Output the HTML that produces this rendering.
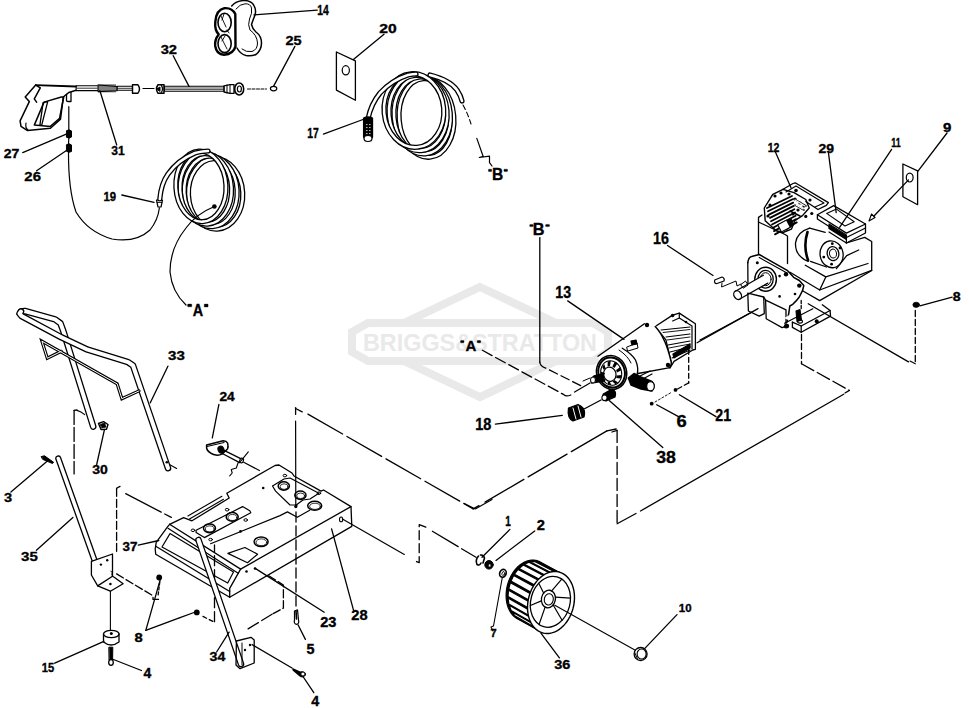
<!DOCTYPE html>
<html><head><meta charset="utf-8"><title>Parts diagram</title>
<style>
html,body{margin:0;padding:0;background:#fff;}
body{width:969px;height:708px;overflow:hidden;font-family:"Liberation Sans",sans-serif;}
svg{display:block;}
</style></head>
<body>
<svg width="969" height="708" viewBox="0 0 969 708">
<rect width="969" height="708" fill="#fff"/>
<g stroke="#e9e9e9" fill="none" stroke-width="8" stroke-linejoin="miter">
<polygon points="480,287 596,342 480,397 364,342"/>
</g>
<polygon points="352,332 368,323 593,323 608,332 608,352 593,361 368,361 352,352" fill="#fff" stroke="#e9e9e9" stroke-width="8"/>
<text x="363" y="351" font-size="23" font-family="Liberation Sans, sans-serif" font-weight="bold" fill="#e9e9e9" stroke="none" textLength="234" lengthAdjust="spacingAndGlyphs">BRIGGS&amp;STRATTON</text>
<g stroke="#000" fill="none" stroke-linecap="round" stroke-linejoin="round">
<polyline points="35.7,85.1 25.2,97 29.3,101.6 20.1,120.9 21,126.4 27.5,130.6 50.4,128.3 60.5,119.1 63.3,97 66.5,94.3 68.8,92.5 76.1,90.2" stroke-width="1.5" fill="none"/>
<polyline points="35.7,85.1 76.1,86.5" stroke-width="1.8" fill="none"/>
<polyline points="35.7,85.1 40.3,87.9 34.3,98.9 36.6,102.1" stroke-width="1.5" fill="none"/>
<polygon points="44,102.1 61.4,97 63.7,97 59.6,118.2 50.4,126.4 34.3,125.1" stroke-width="1.5" fill="none"/>
<polygon points="43.1,102.6 47.7,101.6 41.7,125.1 39.9,125.1" stroke-width="1.3" fill="none"/>
<path d="M26,123 Q25,128 28,130" stroke-width="1.2" fill="none"/>
<path d="M66.5,94.3 L66.5,100.5 Q66.5,101.5 68,101.5 L71,101.5 L71,92.5" stroke-width="1.3" fill="none"/>
<polygon points="76.1,85.8 98,85.8 98,90.6 76.1,90.6" stroke-width="1.1" fill="none"/>
<line x1="77" y1="88.2" x2="97" y2="88.2" stroke-width="0.8"/>
<line x1="99.0" y1="84.6" x2="99.0" y2="92" stroke-width="1.0"/>
<line x1="101.0" y1="84.6" x2="101.0" y2="92" stroke-width="1.0"/>
<line x1="103.0" y1="84.6" x2="103.0" y2="92" stroke-width="1.0"/>
<line x1="105.0" y1="84.6" x2="105.0" y2="92" stroke-width="1.0"/>
<line x1="107.0" y1="84.6" x2="107.0" y2="92" stroke-width="1.0"/>
<line x1="109.0" y1="84.6" x2="109.0" y2="92" stroke-width="1.0"/>
<line x1="111.0" y1="84.6" x2="111.0" y2="92" stroke-width="1.0"/>
<line x1="113.0" y1="84.6" x2="113.0" y2="92" stroke-width="1.0"/>
<line x1="115.0" y1="84.6" x2="115.0" y2="92" stroke-width="1.0"/>
<polyline points="98,85 117,86.5 117,90.8 98,91.6" stroke-width="1.1" fill="none"/>
<polygon points="117,86.3 132.5,86.3 132.5,90.3 117,90.3" stroke-width="1.1" fill="none"/>
<line x1="118" y1="88.3" x2="132" y2="88.3" stroke-width="0.8"/>
<path d="M132.5,84.8 L138,84.8 Q141,89 138,93.2 L132.5,93.2 Z" stroke-width="1.4" fill="none"/>
<line x1="143" y1="88.5" x2="154" y2="88.5" stroke-width="1.1"/>
<path d="M158,84.8 Q155,89 158,93.2 L164,93.2 L164,84.8 Z" stroke-width="1.5" fill="#fff"/>
<path d="M156.8,88.9 L160,87 L160,91 Z" stroke-width="1" fill="#000"/>
<path d="M161,84.8 Q164,89 161,93.2" stroke-width="1.2" fill="none"/>
<polygon points="164.4,86.3 224,86.3 224,91.3 164.4,91.3" stroke-width="1.1" fill="none"/>
<line x1="165" y1="88" x2="223" y2="88" stroke-width="0.7"/>
<line x1="165" y1="89.6" x2="223" y2="89.6" stroke-width="0.7"/>
<path d="M224,85.8 L230,84.6 L234,84.6 L234,93.4 L230,93.4 L224,92 Z" stroke-width="1.3" fill="none"/>
<line x1="227" y1="85" x2="227" y2="93" stroke-width="1"/>
<line x1="230" y1="84.8" x2="230" y2="93.2" stroke-width="1"/>
<ellipse cx="239.2" cy="89" rx="4.5" ry="6" stroke-width="1.6" fill="none"/>
<ellipse cx="239.4" cy="89" rx="2" ry="3" stroke-width="1.2" fill="none"/>
<line x1="247.5" y1="89" x2="266.5" y2="89" stroke-width="1.0" stroke-dasharray="3,1.5"/>
<ellipse cx="273.6" cy="88.6" rx="3.2" ry="2.2" stroke-width="1.2" fill="none"/>
<line x1="173.2" y1="55.7" x2="189" y2="86.4" stroke-width="1.3"/>
<line x1="294.9" y1="46.4" x2="273.5" y2="86.4" stroke-width="1.3"/>
<line x1="99.9" y1="90.7" x2="116.7" y2="145" stroke-width="1.3"/>
<path d="M68.8,106.7 L68.8,130 M68.8,138 L68.5,144 M68.5,152 Q68.3,190 76,212 Q88,232 112,239 Q136,243 150,230 Q158,220 159.4,207.8" stroke-width="1.2" fill="none"/>
<path d="M66.8,130.5 Q69.8,129 71.5,131 L71.5,137 Q69.5,139 66.8,137.5 Z" stroke-width="1" fill="#000"/>
<path d="M66.8,144.5 Q69.8,143 71.5,145 L71.5,151.5 Q69.5,153 66.8,151.5 Z" stroke-width="1" fill="#000"/>
<line x1="22.7" y1="152.6" x2="66.3" y2="134.2" stroke-width="1.3"/>
<line x1="36.6" y1="170.8" x2="67.2" y2="150" stroke-width="1.3"/>
<path d="M156.5,200 L162.5,200 L161,207 L158,207 Z" stroke-width="1.2" fill="none"/>
<line x1="157" y1="202.5" x2="162" y2="202.5" stroke-width="0.8"/>
<line x1="121.8" y1="195" x2="154" y2="202.4" stroke-width="1.3"/>
<ellipse cx="215.6" cy="193.9" rx="27.15" ry="35.30" transform="rotate(-3 215.6 193.9)" stroke="#000" stroke-width="5.2" fill="none"/>
<ellipse cx="215.6" cy="193.9" rx="27.15" ry="35.30" transform="rotate(-3 215.6 193.9)" stroke="#fff" stroke-width="2.6" fill="none"/>
<ellipse cx="210.7" cy="191.4" rx="26.45" ry="35.30" transform="rotate(-3 210.7 191.4)" stroke="#000" stroke-width="5.2" fill="none"/>
<ellipse cx="210.7" cy="191.4" rx="26.45" ry="35.30" transform="rotate(-3 210.7 191.4)" stroke="#fff" stroke-width="2.6" fill="none"/>
<ellipse cx="205.8" cy="188.9" rx="25.75" ry="35.30" transform="rotate(-3 205.8 188.9)" stroke="#000" stroke-width="5.2" fill="none"/>
<ellipse cx="205.8" cy="188.9" rx="25.75" ry="35.30" transform="rotate(-3 205.8 188.9)" stroke="#fff" stroke-width="2.6" fill="none"/>
<ellipse cx="200.9" cy="186.4" rx="25.05" ry="35.30" transform="rotate(-3 200.9 186.4)" stroke="#000" stroke-width="5.2" fill="none"/>
<ellipse cx="200.9" cy="186.4" rx="25.05" ry="35.30" transform="rotate(-3 200.9 186.4)" stroke="#fff" stroke-width="2.6" fill="none"/>
<path d="M159.8,199 Q161,184 168,174 Q178,160 195,153 Q203,151 208,151" stroke="#000" stroke-width="5.2" fill="none"/>
<path d="M159.8,199 Q161,184 168,174 Q178,160 195,153 Q203,151 208,151" stroke="#fff" stroke-width="2.6" fill="none"/>
<circle cx="214.4" cy="206.5" r="2.3" fill="#000" stroke="none"/>
<path d="M214.4,206.5 Q196,214 186,228 Q170,248 170,272 Q172,292 186,305" stroke-width="1.2" fill="none"/>
<path d="M231.7,6 Q236,1 243,0.6 Q251,0 254,5.6 Q256.5,10 255,15 Q253,20 251.5,24.5 Q252.5,29 256,32 Q261.5,36 261.5,43 Q261.5,50 256,54.5 Q251,56.5 246,55.5 Q240,54 237,48" stroke-width="1.5" fill="#fff"/>
<path d="M236,9 Q240,4 245,3.8 Q250.5,3.5 251.5,8 Q252.5,13 249.5,19 Q247.5,25 250,30 Q257,35 257.5,43 Q257.5,49.5 252,51.5 Q246,52.5 242,49" stroke-width="1.0" fill="none"/>
<path d="M224.3,8.2 Q232,7.5 235.3,14 L235.5,46.4 Q233.5,54 224,54.8 Q216.5,54.5 215.2,46 Q214.5,39.5 218.7,34.4 Q214.5,30 215.3,22 Q216,10 224.3,8.2 Z" stroke-width="2.4" fill="#fff"/>
<ellipse cx="224.6" cy="22.5" rx="6.6" ry="9.2" stroke-width="1.6" fill="none"/>
<ellipse cx="224.6" cy="43.6" rx="6.6" ry="9" stroke-width="1.6" fill="none"/>
<path d="M221,16 L226,27 M224,14 L222,20 M221,37 L227,49 M225,36 L222,41 M227,30 L229,33" stroke-width="0.9" fill="none"/>
<line x1="254" y1="14.9" x2="317.2" y2="10.2" stroke-width="1.3"/>
<polygon points="336.4,52 355.4,60.9 355.4,100.3 336.4,90.1" stroke-width="1.3" fill="none"/>
<ellipse cx="345.8" cy="70.3" rx="3.6" ry="4.6" stroke-width="1.2" fill="none"/>
<line x1="384" y1="34.2" x2="353.4" y2="59.6" stroke-width="1.3"/>
<ellipse cx="426.5" cy="118.0" rx="27.36" ry="39.39" transform="rotate(-5 426.5 118.0)" stroke="#000" stroke-width="5.2" fill="none"/>
<ellipse cx="426.5" cy="118.0" rx="27.36" ry="39.39" transform="rotate(-5 426.5 118.0)" stroke="#fff" stroke-width="2.6" fill="none"/>
<ellipse cx="422.2" cy="115.5" rx="28.19" ry="38.56" transform="rotate(-5 422.2 115.5)" stroke="#000" stroke-width="5.2" fill="none"/>
<ellipse cx="422.2" cy="115.5" rx="28.19" ry="38.56" transform="rotate(-5 422.2 115.5)" stroke="#fff" stroke-width="2.6" fill="none"/>
<ellipse cx="418.1" cy="113.0" rx="29.02" ry="37.73" transform="rotate(-5 418.1 113.0)" stroke="#000" stroke-width="5.2" fill="none"/>
<ellipse cx="418.1" cy="113.0" rx="29.02" ry="37.73" transform="rotate(-5 418.1 113.0)" stroke="#fff" stroke-width="2.6" fill="none"/>
<ellipse cx="413.9" cy="110.5" rx="29.85" ry="36.90" transform="rotate(-5 413.9 110.5)" stroke="#000" stroke-width="5.2" fill="none"/>
<ellipse cx="413.9" cy="110.5" rx="29.85" ry="36.90" transform="rotate(-5 413.9 110.5)" stroke="#fff" stroke-width="2.6" fill="none"/>
<path d="M368,119 Q371,104 380,93 Q392,80 408,75 Q413,74 416,74" stroke="#000" stroke-width="5.2" fill="none"/>
<path d="M368,119 Q371,104 380,93 Q392,80 408,75 Q413,74 416,74" stroke="#fff" stroke-width="2.6" fill="none"/>
<path d="M363.6,121 L363.6,137 Q368,143 372.5,137 L372.5,118 Q368,116 363.6,118 Z" stroke-width="1.3" fill="#000"/>
<ellipse cx="368" cy="138.5" rx="4" ry="3" stroke-width="1.2" fill="#fff"/>
<rect x="366.3" y="124" width="1.1" height="1.1" fill="#fff" stroke="none"/>
<rect x="369.3" y="124" width="1.1" height="1.1" fill="#fff" stroke="none"/>
<rect x="366.3" y="127" width="1.1" height="1.1" fill="#fff" stroke="none"/>
<rect x="369.3" y="127" width="1.1" height="1.1" fill="#fff" stroke="none"/>
<rect x="366.3" y="130" width="1.1" height="1.1" fill="#fff" stroke="none"/>
<rect x="369.3" y="130" width="1.1" height="1.1" fill="#fff" stroke="none"/>
<rect x="366.3" y="133" width="1.1" height="1.1" fill="#fff" stroke="none"/>
<rect x="369.3" y="133" width="1.1" height="1.1" fill="#fff" stroke="none"/>
<line x1="323.4" y1="134.1" x2="363" y2="119.5" stroke-width="1.3"/>
<path d="M430,75 Q450,80 457,90 Q461,96 462,101" stroke="#000" stroke-width="5.2" fill="none"/>
<path d="M430,75 Q450,80 457,90 Q461,96 462,101" stroke="#fff" stroke-width="2.6" fill="none"/>
<path d="M463,105 Q468,114 471,124" stroke-width="1.1" fill="none" stroke-dasharray="5,3"/>
<polyline points="476.8,138.4 483.1,156.2 479.3,157.5 489.5,156.2 489.5,162.6 492,166" stroke-width="1.2" fill="none"/>
<g stroke-width="1.3">
<polyline points="758.5,254.5 758.5,217.4 762,215" stroke-width="1.3" fill="none"/>
<polyline points="758.5,222 785,234.5 787.5,236 787.5,263.5" stroke-width="1.3" fill="none"/>
<polygon points="764.3,208 772.8,194.4 783,189.3 794,192.7 805.8,199.5 809.2,208 802.5,215.6 794.8,220.7 791.4,229.2 783,232.5 776.2,230.8 765.2,220.7" fill="#fff" stroke="#000" stroke-width="1.4"/>
<line x1="767.0" y1="208.0" x2="792.0" y2="196.0" stroke="#000" stroke-width="1.8"/>
<line x1="768.0" y1="211.3" x2="792.6" y2="199.3" stroke="#000" stroke-width="1.8"/>
<line x1="769.0" y1="214.6" x2="793.2" y2="202.6" stroke="#000" stroke-width="1.8"/>
<line x1="770.0" y1="217.9" x2="793.8" y2="205.9" stroke="#000" stroke-width="1.8"/>
<line x1="771.0" y1="221.2" x2="794.4" y2="209.2" stroke="#000" stroke-width="1.8"/>
<line x1="772.0" y1="224.5" x2="795.0" y2="212.5" stroke="#000" stroke-width="1.8"/>
<line x1="773.0" y1="227.8" x2="795.6" y2="215.8" stroke="#000" stroke-width="1.8"/>
<line x1="774.0" y1="231.1" x2="796.2" y2="219.1" stroke="#000" stroke-width="1.8"/>
<line x1="775.0" y1="234.4" x2="796.8" y2="222.4" stroke="#000" stroke-width="1.8"/>
<polygon points="783,224 791,219 793,225 786,230" fill="#000"/>
<circle cx="775" cy="196" r="1.6" fill="#000" stroke="none"/>
<circle cx="781" cy="193" r="1.6" fill="#000" stroke="none"/>
<circle cx="789" cy="194" r="1.6" fill="#000" stroke="none"/>
<circle cx="795" cy="199" r="1.6" fill="#000" stroke="none"/>
<circle cx="800" cy="203" r="1.6" fill="#000" stroke="none"/>
<circle cx="770" cy="205" r="1.6" fill="#000" stroke="none"/>
<circle cx="768" cy="216" r="1.6" fill="#000" stroke="none"/>
<circle cx="804" cy="206" r="1.6" fill="#000" stroke="none"/>
<circle cx="798" cy="210" r="1.6" fill="#000" stroke="none"/>
<circle cx="793" cy="214" r="1.6" fill="#000" stroke="none"/>
<path d="M794,199 L806,206 M795,205 L804,210 M790,211 L800,216" stroke="#000" stroke-width="1.6"/>
<line x1="795" y1="200" x2="805" y2="206" stroke="#fff" stroke-width="1.3"/>
<line x1="796" y1="205" x2="803" y2="209" stroke="#fff" stroke-width="1.3"/>
<rect x="779" y="222" width="10" height="8" fill="#fff" stroke="#000" stroke-width="1.1" transform="rotate(-28 784 226)"/>
<polyline points="783,189.3 793,183.5 795.2,182.8 828.4,202.6 826.3,205.4 818,209.5 805.8,201.5" stroke-width="1.3" fill="none"/>
<path d="M786,192 L796,186 L824,203 L815,207" stroke-width="1.1" fill="none"/>
<circle cx="805.8" cy="216.4" r="1.6" fill="#000" stroke="none"/>
<circle cx="811.8" cy="213.5" r="1.6" fill="#000" stroke="none"/>
<circle cx="796" cy="190.5" r="1.8" fill="#000" stroke="none"/>
<circle cx="810" cy="200" r="1.6" fill="#000" stroke="none"/>
<polygon points="817.4,214.8 833.7,205.6 865.5,224 846.4,233.1 817.4,214.8" stroke-width="1.3" fill="none"/>
<polygon points="826.6,213.4 836.5,209.1 854.2,221.8 845,226" stroke-width="1.1" fill="none"/>
<polyline points="817.4,214.8 817.4,219 846.4,237.5 865.5,228 865.5,224" stroke-width="1.3" fill="none"/>
<polyline points="829,224 846.4,235 846.4,243 829,232" stroke-width="1.2" fill="none"/>
<polygon points="829,225 846.4,236 846.4,239.5 829,228.5" fill="#000"/>
<polyline points="846.4,243 865.5,233 865.5,228" stroke-width="1.3" fill="none"/>
<polyline points="846.4,243 864.7,237.4 871.7,241.5 871.7,270.4" stroke-width="1.3" fill="none"/>
<polyline points="805.3,265.3 825.8,276.9 868,263.5" stroke-width="1.3" fill="none"/>
<line x1="825.8" y1="276.9" x2="819.7" y2="290" stroke-width="1.3"/>
<polyline points="790,272.3 819.7,290 871.7,270.4" stroke-width="1.3" fill="none"/>
<polyline points="803,291 819.7,300.6 871,271" stroke-width="1.3" fill="none"/>
<polyline points="836.4,268.6 846.7,255.6 858.7,250" stroke-width="1.3" fill="none"/>
<path d="M809.7,228.2 Q797,232 795.5,243 Q795,256 808.2,261.4" stroke-width="1.3" fill="none"/>
<line x1="809.7" y1="228.2" x2="825.2" y2="232.4" stroke-width="1.3"/>
<line x1="810.4" y1="261.4" x2="826.6" y2="267" stroke-width="1.3"/>
<path d="M807.5,232 Q803,246 808,260" stroke-width="2.6" fill="none"/>
<ellipse cx="831.6" cy="254.3" rx="11.5" ry="13.5" stroke-width="1.3" fill="none" transform="rotate(-10 831.6 254.3)"/>
<ellipse cx="833" cy="253.6" rx="5.8" ry="7.0" stroke-width="1.3" fill="none" transform="rotate(-10 833 253.6)"/>
<ellipse cx="833" cy="253.6" rx="3.5" ry="4.5" stroke-width="1.0" fill="none" transform="rotate(-10 833 253.6)"/>
<circle cx="832.3" cy="243.7" r="1.4" fill="#000" stroke="none"/>
<circle cx="840" cy="248" r="1.4" fill="#000" stroke="none"/>
<circle cx="823.8" cy="257.1" r="1.4" fill="#000" stroke="none"/>
<circle cx="831.6" cy="264.2" r="1.4" fill="#000" stroke="none"/>
</g>
<path d="M747.8,262.7 Q748.5,257 751.6,256.4 L759.2,254.5 L787.2,270.3 L793.6,277.3 L799.3,280.5 L803.8,285.6 L802.5,290.7 L799.3,297 L796.1,300.9 L792.3,304.7 L789.8,306 L789,312 L787,322" stroke-width="1.5" fill="none"/>
<line x1="747.8" y1="262.7" x2="748" y2="292" stroke-width="1.3"/>
<line x1="759.2" y1="257.5" x2="787" y2="273" stroke-width="1.1"/>
<ellipse cx="765.6" cy="279.2" rx="10.8" ry="12" stroke-width="1.4" fill="none"/>
<ellipse cx="765.6" cy="279.2" rx="7.6" ry="8.9" stroke-width="1.3" fill="none"/>
<ellipse cx="765.6" cy="279.2" rx="5.5" ry="6.5" stroke-width="1" fill="none"/>
<path d="M763.4,275.3 L735.4,291.2 L739.8,299 L767.8,283.1 Z" stroke="none" fill="#fff"/>
<line x1="763.4" y1="275.3" x2="735.4" y2="291.2" stroke-width="1.3"/>
<line x1="767.8" y1="283.1" x2="739.8" y2="299" stroke-width="1.3"/>
<ellipse cx="737.6" cy="295.1" rx="3.6" ry="4.6" stroke-width="1.3" fill="#fff" transform="rotate(-30 737.6 295.1)"/>
<polygon points="741,284.5 745.5,281 748,285 743.5,288" stroke-width="1" fill="none"/>
<polyline points="747.8,293.2 763.7,297 764.3,313.6 759.2,316.1 748.4,311 747.8,293.2" stroke-width="1.3" fill="none"/>
<polyline points="765.6,300.2 786,309.8 786,326.3 782.1,327.6 766.2,318.7 765.6,300.2" stroke-width="1.3" fill="none"/>
<line x1="763.7" y1="297" x2="765.6" y2="300.2" stroke-width="1.3"/>
<circle cx="757.3" cy="262.7" r="1.5" fill="#000" stroke="none"/>
<circle cx="786" cy="274.2" r="2.2" fill="#000" stroke="none"/>
<circle cx="779.6" cy="276.1" r="1.3" fill="#000" stroke="none"/>
<circle cx="799.3" cy="285.6" r="2.2" fill="#000" stroke="none"/>
<circle cx="779.6" cy="296.4" r="1.3" fill="#000" stroke="none"/>
<circle cx="798.7" cy="312.3" r="2.2" fill="#000" stroke="none"/>
<circle cx="801.2" cy="321.8" r="1.4" fill="#000" stroke="none"/>
<circle cx="816.5" cy="322.5" r="1.6" fill="#000" stroke="none"/>
<circle cx="786" cy="326.3" r="2.2" fill="#000" stroke="none"/>
<circle cx="795" cy="294" r="1.3" fill="#000" stroke="none"/>
<polygon points="784,318 810,304 822.3,304.8 830.1,310.5 830.5,316.1 801.2,332.3 792.4,327.4 792.4,322.1" fill="#fff" stroke="none"/>
<polyline points="792.4,322.1 801.2,326 830.1,310.5 822.3,304.8" stroke-width="1.3" fill="none"/>
<polyline points="792.4,322.1 792.4,327.4 801.2,332.3 830.5,316.1 830.1,310.5" stroke-width="1.3" fill="none"/>
<line x1="801.2" y1="326" x2="801.2" y2="332.3" stroke-width="1.3"/>
<line x1="784.6" y1="323.2" x2="812.8" y2="308.7" stroke-width="1.2"/>
<path d="M796,311 L800,309.5 L801.5,320 L797,321.5 Z" stroke-width="1.1" fill="#000"/>
<ellipse cx="800" cy="321.5" rx="2.5" ry="1.6" stroke-width="1.1" fill="none"/>
<circle cx="816.7" cy="321.3" r="2" fill="#000" stroke="none"/>
<circle cx="787" cy="326" r="2.2" fill="#000" stroke="none"/>
<path d="M714.7,280 L722,277 Q725,278 724,281 L717,283.5 Q714,284 714.7,280 Z" stroke-width="1.2" fill="none"/>
<polyline points="722,283 721.6,287 736,281 737,286 741,284" stroke-width="1" fill="none"/>
<line x1="667.5" y1="245.5" x2="713" y2="275.5" stroke-width="1.3"/>
<polygon points="902.9,164 917.6,170.8 917.6,204.7 902.9,196.8" stroke-width="1.3" fill="none"/>
<ellipse cx="909.7" cy="177.6" rx="3.4" ry="4.4" stroke-width="1.2" fill="none"/>
<line x1="947" y1="133" x2="917.6" y2="171.6" stroke-width="1.3"/>
<line x1="908.5" y1="179.9" x2="874" y2="216" stroke-width="1.3"/>
<path d="M869,221 L871.5,214 L875,217.5 Z" stroke-width="1.1" fill="none"/>
<line x1="775.2" y1="151.6" x2="791" y2="187.8" stroke-width="1.3"/>
<line x1="828.3" y1="151.6" x2="836.2" y2="212.7" stroke-width="1.3"/>
<line x1="891.6" y1="149.4" x2="839.6" y2="227.3" stroke-width="1.3"/>
<ellipse cx="916.2" cy="304.8" rx="3.3" ry="2.6" stroke-width="0.8" fill="#000"/>
<line x1="919.9" y1="305.9" x2="952.2" y2="297.1" stroke-width="1.3"/>
<g stroke-width="1.3">
<polygon points="655.2,326.5 672.6,315.1 679.3,313.1 695.4,323.8 695.4,349.3 692.8,350 674,361.4 669.9,368.1 671.3,362.7 665.9,339.9" fill="#fff"/>
<polyline points="679.3,313.1 679.3,318 692,326 692,349" stroke-width="1.2" fill="none"/>
<line x1="679.3" y1="318" x2="672.6" y2="321" stroke-width="1.1"/>
<line x1="661" y1="330" x2="690" y2="327" stroke-width="1.1"/>
<line x1="666" y1="337" x2="690" y2="334" stroke-width="1.1"/>
<line x1="668" y1="345" x2="690" y2="341" stroke-width="1.1"/>
<line x1="670" y1="352" x2="690" y2="347" stroke-width="1.1"/>
<line x1="672" y1="358" x2="690" y2="350" stroke-width="1.1"/>
<line x1="663" y1="332.5" x2="690" y2="329.5" stroke-width="0.9"/>
<line x1="667" y1="340" x2="690" y2="337" stroke-width="0.9"/>
<line x1="669" y1="348" x2="690" y2="344" stroke-width="0.9"/>
<circle cx="686" cy="322" r="1.3" fill="#000" stroke="none"/>
<polygon points="673,354 690,344 690,348 674,358" fill="#000"/>
<circle cx="672.6" cy="315.5" r="1.8" fill="#000" stroke="none"/>
<path d="M598,356.2 L644.4,323.8 Q652,320 656,326 Q666,338 671.3,362.7 Q671,368 667.2,368.1 L638,373.5 L621,389 L605,389 Z" fill="#fff" stroke="none"/>
<path d="M598,356.2 L644.4,323.8" stroke-width="1.4" fill="none"/>
<path d="M655.2,326.5 Q666,338 671.3,362.7 Q671,368 667.2,368.1 L638,373.5" stroke-width="1.4" fill="none"/>
<circle cx="647" cy="325" r="2.2" fill="#000" stroke="none"/>
<circle cx="668" cy="365" r="2.2" fill="#000" stroke="none"/>
<path d="M622.3,348.2 Q632,354 635.5,360 Q639,368 637,375 Q636,380 634.7,382" stroke-width="1.3" fill="none"/>
<path d="M619,350 Q628,356 631,363" stroke-width="1.0" fill="none"/>
<ellipse cx="611.6" cy="372.5" rx="15" ry="17" stroke-width="1.5" fill="#fff" transform="rotate(-15 611.6 372.5)"/>
<ellipse cx="611.6" cy="372.5" rx="13.2" ry="15.2" stroke-width="2.0" fill="none" transform="rotate(-15 611.6 372.5)"/>
<ellipse cx="611.2" cy="373" rx="10.4" ry="12.4" stroke-width="1.0" fill="none" transform="rotate(-15 611.2 373)"/>
<polygon points="616.9,375.4 621.6,375.1 620.6,378.6 616.1,378.0" fill="#000" stroke="none"/>
<polygon points="614.5,380.1 618.0,382.4 615.4,384.3 612.4,381.5" fill="#000" stroke="none"/>
<polygon points="610.0,382.0 611.3,385.3 608.2,384.8 607.6,381.5" fill="#000" stroke="none"/>
<polygon points="605.5,380.1 604.6,382.4 602.5,379.7 603.9,378.0" fill="#000" stroke="none"/>
<polygon points="603.1,375.4 601.0,375.1 600.9,371.5 603.1,372.6" fill="#000" stroke="none"/>
<polygon points="603.9,370.0 602.2,366.9 604.2,364.0 605.5,367.9" fill="#000" stroke="none"/>
<polygon points="607.6,366.5 607.7,361.4 610.8,360.7 610.0,366.0" fill="#000" stroke="none"/>
<polygon points="612.4,366.5 614.9,361.4 617.6,363.2 614.5,367.9" fill="#000" stroke="none"/>
<polygon points="616.1,370.0 620.4,366.9 621.5,370.3 616.9,372.6" fill="#000" stroke="none"/>
<ellipse cx="609.8" cy="374.2" rx="6.2" ry="7.2" stroke-width="1.2" fill="#fff" transform="rotate(-15 609.8 374.2)"/>
</g>
<path d="M631,341 L636,340 L637,344 L632,345 Z" stroke-width="1.2" fill="#000"/>
<polygon points="627,347 637,343 638,348 628,351" stroke-width="1" fill="none"/>
<path d="M604.2,373.5 L594,376 Q590,379 591.5,383 L604,381" stroke-width="1.4" fill="#000"/>
<ellipse cx="593" cy="380" rx="2.5" ry="3" stroke-width="1" fill="#fff"/>
<line x1="583" y1="381" x2="590" y2="378" stroke-width="1"/>
<path d="M603.3,394 L612,389 Q617,391 615,397 L606,401 Q601,399 603.3,394 Z" stroke-width="1.3" fill="#000"/>
<ellipse cx="604.5" cy="397.8" rx="2.6" ry="2.8" stroke-width="1.1" fill="#fff"/>
<path d="M628.3,378 L634,373.5 L641,377 L652,381.5 Q656,386 652,391 L641,389 L631,385 Z" stroke-width="1.4" fill="#000"/>
<ellipse cx="650.5" cy="386.2" rx="3.8" ry="4.6" stroke-width="1.2" fill="#fff"/>
<line x1="640" y1="376" x2="650" y2="371" stroke-width="1.2"/>
<line x1="641" y1="380" x2="652" y2="374" stroke-width="1.2"/>
<line x1="567.7" y1="300.9" x2="624" y2="339.4" stroke-width="1.3"/>
<path d="M568.5,408 L578,404.5 Q585,407 584.5,414 L584,417 L573,421 Q567,418 568.5,408 Z" stroke-width="1.3" fill="#000"/>
<line x1="573" y1="408" x2="576" y2="419" stroke="#fff" stroke-width="1"/>
<line x1="578" y1="406" x2="581" y2="417" stroke="#fff" stroke-width="1"/>
<line x1="584.5" y1="408.7" x2="601" y2="400" stroke-width="1.3"/>
<line x1="495.4" y1="424.2" x2="562.3" y2="415.3" stroke-width="1.3"/>
<line x1="609.2" y1="400.5" x2="662.8" y2="447.6" stroke-width="1.3"/>
<circle cx="651.7" cy="403.7" r="1.9" fill="#000" stroke="none"/>
<circle cx="675.5" cy="389.9" r="1.9" fill="#000" stroke="none"/>
<line x1="655" y1="402" x2="672" y2="392" stroke-width="0.9" stroke-dasharray="2,2"/>
<line x1="656.7" y1="404.7" x2="678.5" y2="416.6" stroke-width="1.3"/>
<line x1="679.4" y1="394.8" x2="716" y2="416.6" stroke-width="1.3"/>
<line x1="688.7" y1="349.3" x2="688.7" y2="382.9" stroke-width="1.3" stroke-dasharray="5,3"/>
<line x1="688.7" y1="382.9" x2="677.5" y2="389" stroke-width="1.3" stroke-dasharray="5,3"/>
<line x1="697.1" y1="342.8" x2="758" y2="308.6" stroke-width="1.3"/>
<line x1="700" y1="340" x2="751.6" y2="312.3" stroke-width="1.3"/>
<line x1="808.2" y1="303.8" x2="908.5" y2="361.9" stroke-width="1.3"/>
<line x1="539.8" y1="237.6" x2="539.8" y2="362.2" stroke-width="1.3"/>
<path d="M539.8,362 Q540,366 545.7,368.1 L581.3,385.9" stroke-width="1.3" fill="none" stroke-dasharray="9,4"/>
<path d="M482.4,350.3 L563.8,394.6 Q566,397 570.8,395" stroke-width="1.3" fill="none" stroke-dasharray="11,4"/>
<line x1="574.6" y1="392.1" x2="590" y2="383" stroke-width="1.2"/>
<line x1="915.3" y1="310.5" x2="915.3" y2="363.8" stroke-width="1.3" stroke-dasharray="6,3"/>
<line x1="915.3" y1="363.8" x2="910" y2="361" stroke-width="1.1"/>
<line x1="801.5" y1="334.5" x2="801.5" y2="363.8" stroke-width="1.3" stroke-dasharray="6,3"/>
<line x1="801.2" y1="300.5" x2="801.2" y2="309" stroke-width="1.3" stroke-dasharray="3,2"/>
<path d="M801.5,363.8 L849.4,390.4 L845,393" stroke-width="1.3" fill="none" stroke-dasharray="14,4"/>
<line x1="843.7" y1="394.2" x2="640.5" y2="511" stroke-width="1.3"/>
<line x1="636" y1="513.5" x2="617.1" y2="523.7" stroke-width="1.3"/>
<line x1="617.1" y1="430.4" x2="617.1" y2="523.7" stroke-width="1.3" stroke-dasharray="12,4"/>
<line x1="617.1" y1="430.4" x2="612" y2="432" stroke-width="1.3"/>
<line x1="307.9" y1="414.1" x2="473.2" y2="508.9" stroke-width="1.3" stroke-dasharray="40,5"/>
<line x1="473.2" y1="508.9" x2="479" y2="505.6" stroke-width="1.3"/>
<line x1="485" y1="502.1" x2="606.9" y2="430.9" stroke-width="1.3" stroke-dasharray="45,5"/>
<line x1="606.9" y1="430.9" x2="616.2" y2="429" stroke-width="1.3"/>
<line x1="295.6" y1="407.6" x2="295.6" y2="414.4" stroke-width="1.3"/>
<line x1="295.6" y1="408.5" x2="302.2" y2="411.9" stroke-width="1.3"/>
</g>
<g stroke="#000" fill="none" stroke-linecap="round" stroke-linejoin="round">
<path d="M93.2,426.6 L63.6,331.9 L60.5,323.3 L55.1,319.4 L24.8,311 L21,311.5" stroke="#000" stroke-width="6.6" fill="none"/>
<path d="M93.2,426.6 L63.6,331.9 L60.5,323.3 L55.1,319.4 L24.8,311 L21,311.5" stroke="#fff" stroke-width="4.0" fill="none"/>
<path d="M21,311.5 L19.5,313.5 L21.5,316 L61.3,337.3 L87.7,349.7 L128.1,362.2 L133,365.5 L168,468.2" stroke="#000" stroke-width="6.6" fill="none"/>
<path d="M21,311.5 L19.5,313.5 L21.5,316 L61.3,337.3 L87.7,349.7 L128.1,362.2 L133,365.5 L168,468.2" stroke="#fff" stroke-width="4.0" fill="none"/>
<path d="M61.3,351.3 L47.3,358.3 L41.9,341.2 L117.2,383.9 L121.9,398.7 L139,390.9" stroke="#000" stroke-width="3.2" fill="none" stroke-linejoin="miter"/>
<path d="M61.3,351.3 L47.3,358.3 L41.9,341.2 L117.2,383.9 L121.9,398.7 L139,390.9" stroke="#fff" stroke-width="1.0" fill="none" stroke-linejoin="miter"/>
<line x1="167.9" y1="366.2" x2="150.3" y2="402.8" stroke-width="1.3"/>
<line x1="169.9" y1="464.8" x2="176.6" y2="468.4" stroke-width="1.1"/>
<circle cx="166.8" cy="462.3" r="1.3" fill="#000" stroke="none"/>
<path d="M98.5,423.5 L103.5,421.6 L108,424.5 L106.5,429.2 L101,429.6 Z" stroke-width="1.4" fill="#fff"/>
<path d="M100.5,424.5 L104.5,423 L106,427 L102,428 Z" stroke-width="0.8" fill="#000"/>
<line x1="104.5" y1="429.4" x2="96.7" y2="464.5" stroke-width="1.3"/>
<line x1="74.1" y1="410.4" x2="74.1" y2="473.9" stroke-width="1.3" stroke-dasharray="14,3"/>
<line x1="74.1" y1="410.4" x2="77" y2="410" stroke-width="1.3"/>
<path d="M77,410.4 Q81,411.5 84.7,414.6" stroke-width="1.1" fill="none"/>
<path d="M58.3,458.5 L95.5,563" stroke="#000" stroke-width="6.2" fill="none"/>
<path d="M58.3,458.5 L95.5,563" stroke="#fff" stroke-width="3.6" fill="none"/>
<path d="M41.5,456.5 L44.5,455.8 L53.6,462.3 L52.5,463.5 L43,459.5 Z" stroke-width="1" fill="#000"/>
<line x1="47.4" y1="461" x2="10.9" y2="492" stroke-width="1.3"/>
<line x1="36.4" y1="550.2" x2="72.9" y2="517.4" stroke-width="1.3"/>
<polygon points="91.4,561.3 112.5,554 112.5,576.3 114.6,577.5 123.1,583.8 110.4,591.2 97.7,585.9" fill="#fff" stroke="none"/>
<polyline points="97.7,585.9 91.4,575 91.4,561.3 112.5,554 112.5,576.3" stroke-width="1.3" fill="none"/>
<polyline points="97.7,585.9 110.4,591.2 123.1,583.8 114.6,577.5 112.5,576.3 97.7,585.9" stroke-width="1.3" fill="none"/>
<circle cx="100.9" cy="564.6" r="1.2" fill="#000" stroke="none"/>
<circle cx="107.2" cy="560.3" r="1.2" fill="#000" stroke="none"/>
<circle cx="110.4" cy="584" r="1.3" fill="#000" stroke="none"/>
<path d="M111,571 Q113,572 112,575" stroke-width="1" fill="none"/>
<line x1="110.4" y1="591.2" x2="110.4" y2="630.4" stroke-width="1.1"/>
<path d="M103.5,634 L103.5,642 Q111,648 119,642 L119,634" stroke-width="1.3" fill="none"/>
<ellipse cx="111.3" cy="634" rx="7.8" ry="3.6" stroke-width="1.3" fill="none"/>
<circle cx="111.3" cy="633.6" r="1.5" fill="#000" stroke="none"/>
<path d="M109.2,647.2 L112.8,647.2 L112.6,660 L109.4,660 Z" stroke-width="1" fill="#000"/>
<ellipse cx="111" cy="662.5" rx="2.3" ry="2.8" stroke-width="1.3" fill="#fff"/>
<line x1="54.7" y1="663.2" x2="103.9" y2="641.3" stroke-width="1.3"/>
<line x1="141.4" y1="670.5" x2="113.5" y2="659.5" stroke-width="1.3"/>
<circle cx="159.2" cy="577.5" r="2.9" fill="#000" stroke="none"/>
<line x1="145.8" y1="630.4" x2="160.3" y2="579.4" stroke-width="1.3"/>
<line x1="145.8" y1="630.4" x2="180" y2="617.6" stroke-width="1.3"/>
<circle cx="196.8" cy="612.4" r="2.9" fill="#000" stroke="none"/>
<line x1="180" y1="617.6" x2="194" y2="612.5" stroke-width="1.3"/>
<line x1="159.8" y1="582" x2="158" y2="596" stroke-width="1.3" stroke-dasharray="3,2"/>
<line x1="116.6" y1="488.3" x2="116.6" y2="552" stroke-width="1.3" stroke-dasharray="8,3"/>
<line x1="116.6" y1="488.3" x2="120" y2="486.4" stroke-width="1.3"/>
<line x1="125.7" y1="493.7" x2="171.3" y2="517.4" stroke-width="1.3" stroke-dasharray="40,4"/>
<path d="M116.6,573.9 L153,595.8 L153,599.4 L158.5,599.4" stroke-width="1.3" fill="none" stroke-dasharray="8,3"/>
<path d="M206.6,444.9 L223.1,440.7 Q226.5,441 227.6,443 Q228.6,447 227.5,449 L222.3,453.9 Q219.5,455.3 217.3,455.2 Q213,455 210.7,453.1 Q207,451 206.6,448.2 Z" stroke-width="1.5" fill="#fff"/>
<line x1="207" y1="446.5" x2="224" y2="442.5" stroke-width="1.1"/>
<path d="M223.1,449.8 L241.2,458.9 M222.3,453.5 L239.6,462.6" stroke-width="1.3" fill="none"/>
<ellipse cx="221" cy="449.6" rx="3" ry="3.6" stroke-width="1" fill="#000" transform="rotate(-20 221 449.6)"/>
<ellipse cx="241.6" cy="460.5" rx="1.8" ry="2.4" stroke-width="1.2" fill="#fff" transform="rotate(20 241.6 460.5)"/>
<polyline points="248.3,451.9 241.2,460.6 238,463 236.3,468 231.3,469.6 232.2,473 229.7,475.8" stroke-width="1.1" fill="none"/>
<line x1="243.7" y1="462.2" x2="259.4" y2="470.5" stroke-width="1.2"/>
<line x1="218.9" y1="404.4" x2="212.3" y2="437.8" stroke-width="1.3"/>
<g stroke-width="1.3">
<polyline points="169.6,524.3 183.6,517.6 192,520.8 229.2,498 226.8,493.2 275,465.5 279,465 292,473 294,476 321,491.1 323.5,490 351,506.6 240.6,569.1" stroke-width="1.3" fill="none"/>
<polyline points="351,506.6 351.8,526.4 229.7,597.3" stroke-width="1.3" fill="none"/>
<polyline points="169.6,524.3 167.5,526.9 156.2,542.3 155.2,549 155.7,554.2 229.7,597.3 229.7,588.4 240.6,569.1 169.6,524.3" stroke-width="1.3" fill="none"/>
<line x1="168" y1="528.2" x2="238.2" y2="573.3" stroke-width="1.2"/>
<polyline points="170,533.6 233.5,572 227.7,583 162,547 170,533.6" stroke-width="1.2" fill="none"/>
<line x1="156.2" y1="546.5" x2="229.7" y2="591.5" stroke-width="1.3"/>
<path d="M187.9,515.9 L221.9,496.3 M189.5,519 L223.5,499.3" stroke-width="1.1" fill="none"/>
<polyline points="196.1,530.3 242.6,506.6 249.8,510.7 250.8,512.8 204.4,537.6 196.1,532.4 196.1,530.3" stroke-width="1.2" fill="none"/>
<polyline points="272.5,486 284,479 290,478 318.9,493.2 310,499 303,500 296.2,505 290,505 275.6,491.1 272.5,486" stroke-width="1.2" fill="none"/>
<polyline points="210.6,543.7 280,515.6 287.4,511.9 297.3,517.3 309.7,510.3" stroke-width="1.2" fill="none"/>
<ellipse cx="283.8" cy="486" rx="5.6" ry="4.2" stroke-width="1.5" fill="none"/>
<ellipse cx="284.1" cy="486.6" rx="3.9999999999999996" ry="2.8000000000000003" stroke-width="0.8" fill="none"/>
<ellipse cx="300.4" cy="495.2" rx="5.6" ry="4.2" stroke-width="1.5" fill="none"/>
<ellipse cx="300.7" cy="495.8" rx="3.9999999999999996" ry="2.8000000000000003" stroke-width="0.8" fill="none"/>
<ellipse cx="314.7" cy="505.7" rx="7" ry="4.5" stroke-width="1.5" fill="none"/>
<ellipse cx="315.0" cy="506.3" rx="5.4" ry="3.1" stroke-width="0.8" fill="none"/>
<ellipse cx="232.2" cy="516.9" rx="6" ry="4.4" stroke-width="1.5" fill="none"/>
<ellipse cx="232.5" cy="517.5" rx="4.4" ry="3.0000000000000004" stroke-width="0.8" fill="none"/>
<ellipse cx="209.5" cy="528.3" rx="6" ry="4.4" stroke-width="1.5" fill="none"/>
<ellipse cx="209.8" cy="528.9" rx="4.4" ry="3.0000000000000004" stroke-width="0.8" fill="none"/>
<ellipse cx="261.1" cy="541.7" rx="7" ry="4.8" stroke-width="1.5" fill="none"/>
<ellipse cx="261.40000000000003" cy="542.3000000000001" rx="5.4" ry="3.4" stroke-width="0.8" fill="none"/>
<ellipse cx="193" cy="530.3" rx="1.8" ry="1.3" stroke-width="1.0" fill="none"/>
<ellipse cx="227.1" cy="509.7" rx="1.8" ry="1.3" stroke-width="1.0" fill="none"/>
<ellipse cx="245.7" cy="520" rx="1.8" ry="1.3" stroke-width="1.0" fill="none"/>
<ellipse cx="210.6" cy="539.6" rx="1.8" ry="1.3" stroke-width="1.0" fill="none"/>
<ellipse cx="284.9" cy="475.6" rx="1.8" ry="1.3" stroke-width="1.0" fill="none"/>
<ellipse cx="318.9" cy="493.2" rx="1.8" ry="1.3" stroke-width="1.0" fill="none"/>
<circle cx="263.2" cy="488" r="1.3" fill="#000" stroke="none"/>
<circle cx="240.5" cy="531.4" r="1.3" fill="#000" stroke="none"/>
<circle cx="296.2" cy="505.6" r="1.3" fill="#000" stroke="none"/>
<ellipse cx="341.1" cy="519.4" rx="1.6" ry="2.4" stroke-width="1.1" fill="none"/>
<polyline points="227.9,553.4 244.9,547.5 257.6,554.2 247.5,562.7 227.9,553.4" stroke-width="1.2" fill="none"/>
<circle cx="246.5" cy="571.5" r="1.3" fill="#000" stroke="none"/>
<circle cx="255" cy="568.5" r="1.3" fill="#000" stroke="none"/>
</g>
<line x1="138.3" y1="545.1" x2="158.8" y2="540.5" stroke-width="1.3"/>
<line x1="255.2" y1="568.4" x2="324.2" y2="612.2" stroke-width="1.3"/>
<line x1="331.6" y1="528.9" x2="353.5" y2="610.2" stroke-width="1.3"/>
<polyline points="268.8,575.7 283.4,585.1 283.4,608.1 272,614.3" stroke-width="1.3" fill="none" stroke-dasharray="8,3"/>
<line x1="272" y1="614.3" x2="247.9" y2="629" stroke-width="1.3" stroke-dasharray="12,4"/>
<line x1="295.6" y1="421.2" x2="295.8" y2="506.5" stroke-width="1.2"/>
<circle cx="295.8" cy="506.6" r="1.6" fill="#000" stroke="none"/>
<line x1="296" y1="512" x2="296" y2="608" stroke-width="1.3" stroke-dasharray="10,4"/>
<line x1="203" y1="616.4" x2="213.4" y2="621.7" stroke-width="1.3" stroke-dasharray="4,3"/>
<line x1="214.5" y1="621.7" x2="214.5" y2="545" stroke-width="1.3" stroke-dasharray="10,4"/>
<path d="M294.5,611 L297.5,609.9 L298.5,620 Q299.5,624 296.5,624.4 Q293.5,623.5 294.5,620 Z" stroke-width="1.2" fill="#fff"/>
<line x1="296" y1="611" x2="296.5" y2="619" stroke-width="1.6"/>
<line x1="298" y1="624.8" x2="305.4" y2="639.4" stroke-width="1.3"/>
<path d="M198.5,540 L241,664" stroke="#000" stroke-width="6.6" fill="none"/>
<path d="M198.5,540 L241,664" stroke="#fff" stroke-width="4" fill="none"/>
<polygon points="236.4,641 251,637.3 254.2,640 254.2,663 240,668.7 236,665" stroke-width="1.3" fill="none"/>
<line x1="242" y1="643" x2="242" y2="665" stroke-width="1"/>
<circle cx="245" cy="650" r="1.2" fill="#000" stroke="none"/>
<circle cx="250" cy="645" r="1.2" fill="#000" stroke="none"/>
<line x1="216.6" y1="652" x2="229.1" y2="632.1" stroke-width="1.3"/>
<line x1="252.1" y1="644.6" x2="292" y2="668" stroke-width="1.3"/>
<path d="M292.9,668.7 L300,672 Q305,671 305.4,675 Q303,678 300,676 L293,670 Z" stroke-width="1.2" fill="#000"/>
<ellipse cx="303" cy="674" rx="2.2" ry="2" stroke-width="1" fill="#fff"/>
<line x1="303.3" y1="677" x2="313.8" y2="692.7" stroke-width="1.3"/>
<polygon points="506.11,595.83 506.13,594.26 506.22,592.68 506.36,591.09 506.57,589.49 506.84,587.91 507.17,586.32 507.56,584.75 508.0,583.2 508.51,581.67 509.07,580.16 509.69,578.67 510.36,577.23 511.08,575.81 511.85,574.44 512.66,573.11 513.52,571.83 514.43,570.6 515.37,569.43 516.35,568.31 517.37,567.25 518.42,566.26 519.49,565.33 520.59,564.47 521.72,563.69 522.87,562.98 524.03,562.34 525.2,561.78 526.39,561.3 527.58,560.9 528.78,560.58 529.98,560.34 531.18,560.18 532.36,560.11 533.54,560.12 534.71,560.22 535.86,560.39 537.0,560.65 538.11,560.99 539.2,561.42 540.25,561.92 562.25,573.92 563.28,574.5 564.27,575.16 565.23,575.89 566.15,576.69 567.03,577.57 567.86,578.51 568.65,579.52 569.39,580.6 570.07,581.73 570.71,582.92 571.29,584.16 571.82,585.46 572.29,586.8 572.7,588.18 573.05,589.6 573.34,591.06 573.57,592.55 573.74,594.07 573.84,595.61 573.89,597.17 573.87,598.74 573.78,600.32 573.64,601.91 573.43,603.51 573.16,605.09 572.83,606.68 572.44,608.25 572.0,609.8 571.49,611.33 570.93,612.84 570.31,614.33 569.64,615.77 568.92,617.19 568.15,618.56 567.34,619.89 566.48,621.17 565.57,622.4 564.63,623.57 563.65,624.69 562.63,625.75 561.58,626.74 560.51,627.67 559.41,628.53 558.28,629.31 557.13,630.02 555.97,630.66 554.8,631.22 553.61,631.7 552.42,632.1 551.22,632.42 550.02,632.66 548.82,632.82 547.64,632.89 546.46,632.88 545.29,632.78 544.14,632.61 543.0,632.35 541.89,632.01 540.8,631.58 539.75,631.08 517.75,619.08 516.72,618.5 515.73,617.84 514.77,617.11 513.85,616.31 512.97,615.43 512.14,614.49 511.35,613.48 510.61,612.4 509.93,611.27 509.29,610.08 508.71,608.84 508.18,607.54 507.71,606.2 507.3,604.82 506.95,603.4 506.66,601.94 506.43,600.45 506.26,598.93 506.16,597.39" fill="#000" stroke="#000" stroke-width="1.2"/>
<polygon points="519.31,619.25 515.52,616.54 535.85,628.31 539.75,631.08" fill="#fff" stroke="#000" stroke-width="1.2"/>
<polygon points="514.67,615.68 511.71,611.61 531.93,623.27 534.97,627.43" fill="#fff" stroke="#000" stroke-width="1.2"/>
<polygon points="511.1,610.45 509.17,605.29 529.3,616.82 531.29,622.08" fill="#fff" stroke="#000" stroke-width="1.2"/>
<polygon points="508.83,603.9 508.07,598.02 528.16,609.39 528.95,615.4" fill="#fff" stroke="#000" stroke-width="1.2"/>
<polygon points="508.03,596.49 508.49,590.28 528.57,601.49 528.11,607.83" fill="#fff" stroke="#000" stroke-width="1.2"/>
<polygon points="508.75,588.72 510.39,582.6 530.51,593.67 528.84,599.91" fill="#fff" stroke="#000" stroke-width="1.2"/>
<polygon points="510.94,581.12 513.65,575.51 533.85,586.44 531.07,592.16" fill="#fff" stroke="#000" stroke-width="1.2"/>
<polygon points="514.45,574.21 518.05,569.49 538.35,580.31 534.66,585.11" fill="#fff" stroke="#000" stroke-width="1.2"/>
<polygon points="519.04,568.46 523.28,564.96 543.72,575.69 539.37,579.25" fill="#fff" stroke="#000" stroke-width="1.2"/>
<polygon points="524.4,564.26 529.0,562.21 549.58,572.9 544.87,574.98" fill="#fff" stroke="#000" stroke-width="1.2"/>
<polygon points="530.16,561.89 534.8,561.44 555.54,572.12 550.78,572.58" fill="#fff" stroke="#000" stroke-width="1.2"/>
<polygon points="535.94,561.53 540.3,562.7 561.2,573.42 556.71,572.22" fill="#fff" stroke="#000" stroke-width="1.2"/>
<polygon points="573.02,608.4 572.4,610.51 571.67,612.58 570.85,614.6 569.92,616.56 568.91,618.45 567.8,620.27 566.62,621.99 565.36,623.63 564.02,625.16 562.63,626.58 561.18,627.88 559.68,629.06 558.13,630.11 556.56,631.02 554.95,631.8 553.33,632.43 551.69,632.92 550.05,633.26 548.42,633.45 546.8,633.49 545.19,633.38 543.62,633.11 542.08,632.7 540.59,632.14 539.15,631.44 537.76,630.6 536.44,629.61 535.19,628.5 534.02,627.26 532.93,625.9 531.93,624.43 531.02,622.84 530.2,621.16 529.49,619.39 528.89,617.54 528.39,615.61 528.0,613.62 527.73,611.57 527.56,609.48 527.52,607.36 527.58,605.21 527.76,603.05 528.06,600.89 528.46,598.74 528.98,596.6 529.6,594.49 530.33,592.42 531.15,590.4 532.08,588.44 533.09,586.55 534.2,584.73 535.38,583.01 536.64,581.37 537.98,579.84 539.37,578.42 540.82,577.12 542.32,575.94 543.87,574.89 545.44,573.98 547.05,573.2 548.67,572.57 550.31,572.08 551.95,571.74 553.58,571.55 555.2,571.51 556.81,571.62 558.38,571.89 559.92,572.3 561.41,572.86 562.85,573.56 564.24,574.4 565.56,575.39 566.81,576.5 567.98,577.74 569.07,579.1 570.07,580.57 570.98,582.16 571.8,583.84 572.51,585.61 573.11,587.46 573.61,589.39 574.0,591.38 574.27,593.43 574.44,595.52 574.48,597.64 574.42,599.79 574.24,601.95 573.94,604.11 573.54,606.26" fill="#fff" stroke="#000" stroke-width="1.4"/>
<ellipse cx="550.4" cy="601.8" rx="19.6" ry="25.8" stroke-width="1.3" fill="none" transform="rotate(15 550.4 601.8)"/>
<ellipse cx="548.4" cy="599" rx="7" ry="8.9" stroke-width="1.3" fill="none" transform="rotate(10 548.4 599)"/>
<ellipse cx="548.8" cy="599.4" rx="4.5" ry="5.7" stroke-width="1.1" fill="none" transform="rotate(10 548.8 599.4)"/>
<line x1="551.68" y1="590.85" x2="561.75" y2="579.04" stroke-width="1.2"/>
<line x1="555.41" y1="597.14" x2="570.47" y2="598.04" stroke-width="1.2"/>
<line x1="553.16" y1="605.02" x2="562.08" y2="620.25" stroke-width="1.2"/>
<line x1="545.12" y1="607.15" x2="539.05" y2="624.56" stroke-width="1.2"/>
<line x1="541.39" y1="600.86" x2="530.33" y2="605.56" stroke-width="1.2"/>
<line x1="543.64" y1="592.98" x2="538.72" y2="583.35" stroke-width="1.2"/>
<line x1="554.8" y1="605.3" x2="635.3" y2="650.2" stroke-width="1.1"/>
<ellipse cx="640.6" cy="654" rx="6.5" ry="6.5" stroke-width="1.3" fill="none"/>
<ellipse cx="641.6" cy="654" rx="4.5" ry="5" stroke-width="1.1" fill="none"/>
<line x1="634.5" y1="652" x2="637.5" y2="659" stroke-width="1"/>
<line x1="677" y1="614.6" x2="644.6" y2="648.6" stroke-width="1.3"/>
<line x1="559.4" y1="657.9" x2="540.9" y2="633.1" stroke-width="1.3"/>
<path d="M478.5,556 Q475,560 477,564.5 Q479.5,566 481,563 M480.5,555 Q483.5,554.5 484.5,558 L483,563" stroke-width="1.6" fill="none"/>
<ellipse cx="489" cy="564.8" rx="4.2" ry="4.3" stroke-width="1" fill="#000"/>
<ellipse cx="489.8" cy="565.4" rx="1.3" ry="1.5" stroke-width="0.6" fill="#fff"/>
<ellipse cx="502.9" cy="573.3" rx="3.2" ry="4" stroke-width="1.7" fill="none" transform="rotate(20 502.9 573.3)"/>
<ellipse cx="503.3" cy="573.5" rx="1.3" ry="2" stroke-width="0.8" fill="none" transform="rotate(20 503.3 573.5)"/>
<line x1="509.9" y1="529.4" x2="482" y2="557.3" stroke-width="1.3"/>
<line x1="534.7" y1="531" x2="496" y2="560.4" stroke-width="1.3"/>
<polyline points="502.2,578 493.5,626 491,627 493,631" stroke-width="1.1" fill="none"/>
<line x1="432.4" y1="531.3" x2="476" y2="557.3" stroke-width="1.3" stroke-dasharray="30,4"/>
<polyline points="425.8,527.2 419.2,524.7 419.2,562.7 413.4,560.2" stroke-width="1.3" fill="none" stroke-dasharray="9,4"/>
<line x1="342.4" y1="519" x2="404.3" y2="554.4" stroke-width="1.2"/>
<polyline points="463.8,503.3 475.3,509 492,499.5" stroke-width="1.2" fill="none"/>
</g>
<g fill="#000" stroke="#000" stroke-width="0.35" font-family="Liberation Sans, sans-serif" font-weight="bold">
<text transform="translate(317.18,14.80) scale(0.754,1)" font-size="13.77">14</text>
<text transform="translate(285.57,45.37) scale(1.082,1)" font-size="13.38">25</text>
<text transform="translate(160.71,54.46) scale(1.085,1)" font-size="13.52">32</text>
<text transform="translate(379.23,32.78) scale(1.265,1)" font-size="12.39">20</text>
<text transform="translate(307.28,137.80) scale(0.696,1)" font-size="14.93">17</text>
<text transform="translate(111.26,154.57) scale(0.932,1)" font-size="12.96">31</text>
<text transform="translate(3.68,158.10) scale(1.034,1)" font-size="13.57">27</text>
<text transform="translate(24.35,180.56) scale(1.102,1)" font-size="13.52">26</text>
<text transform="translate(103.42,200.87) scale(0.879,1)" font-size="12.96">19</text>
<text transform="translate(767.66,152.10) scale(0.797,1)" font-size="13.29">12</text>
<text transform="translate(818.38,152.97) scale(1.064,1)" font-size="13.10">29</text>
<text transform="translate(891.16,146.90) scale(0.665,1)" font-size="13.48">11</text>
<text transform="translate(943.10,132.27) scale(1.158,1)" font-size="12.96">9</text>
<text transform="translate(653.04,244.34) scale(0.896,1)" font-size="15.92">16</text>
<text transform="translate(555.35,298.34) scale(0.874,1)" font-size="16.20">13</text>
<text transform="translate(952.87,300.67) scale(1.120,1)" font-size="12.68">8</text>
<text transform="translate(168.10,359.67) scale(1.137,1)" font-size="13.24">33</text>
<text transform="translate(219.39,400.80) scale(1.078,1)" font-size="12.71">24</text>
<text transform="translate(475.23,430.44) scale(0.881,1)" font-size="16.48">18</text>
<text transform="translate(676.47,427.23) scale(1.094,1)" font-size="16.76">6</text>
<text transform="translate(715.37,421.20) scale(0.911,1)" font-size="15.57">21</text>
<text transform="translate(656.25,462.73) scale(1.067,1)" font-size="16.62">38</text>
<text transform="translate(92.22,474.47) scale(1.080,1)" font-size="12.96">30</text>
<text transform="translate(4.11,501.67) scale(1.152,1)" font-size="12.68">3</text>
<text transform="translate(21.10,560.86) scale(1.109,1)" font-size="13.52">35</text>
<text transform="translate(122.53,550.67) scale(1.052,1)" font-size="12.68">37</text>
<text transform="translate(505.30,525.90) scale(0.704,1)" font-size="14.20">1</text>
<text transform="translate(536.76,530.30) scale(1.029,1)" font-size="14.29">2</text>
<text transform="translate(134.56,641.88) scale(1.194,1)" font-size="12.39">8</text>
<text transform="translate(320.16,626.96) scale(1.048,1)" font-size="13.94">23</text>
<text transform="translate(351.26,619.76) scale(1.041,1)" font-size="14.08">28</text>
<text transform="translate(490.56,636.81) scale(0.977,1)" font-size="11.32">7</text>
<text transform="translate(678.81,612.18) scale(0.994,1)" font-size="11.55">10</text>
<text transform="translate(41.83,671.87) scale(0.850,1)" font-size="13.14">15</text>
<text transform="translate(143.52,677.50) scale(0.954,1)" font-size="14.64">4</text>
<text transform="translate(209.62,661.27) scale(1.115,1)" font-size="12.68">34</text>
<text transform="translate(306.47,654.06) scale(1.008,1)" font-size="14.29">5</text>
<text transform="translate(311.31,705.70) scale(0.989,1)" font-size="14.49">4</text>
<text transform="translate(554.21,669.17) scale(1.129,1)" font-size="12.82">36</text>
<text transform="translate(492.01,179.80) scale(0.918,1)" font-size="16.96">B</text>
<rect x="488.4" y="169.2" width="3.3" height="2.4" rx="0.6"/>
<rect x="503.9" y="169.2" width="3.7" height="2.2" rx="0.6"/>
<text transform="translate(192.77,315.67) scale(0.844,1)" font-size="17.06">A</text>
<rect x="187.6" y="304.1" width="4.2" height="2.7" rx="0.6"/>
<rect x="204.2" y="304.1" width="3.9" height="2.9" rx="0.6"/>
<text transform="translate(532.86,234.80) scale(1.027,1)" font-size="15.80">B</text>
<rect x="529.7" y="224.4" width="3.5" height="2.2" rx="0.6"/>
<rect x="545.6" y="224.4" width="3.9" height="2.2" rx="0.6"/>
<text transform="translate(465.45,350.55) scale(1.030,1)" font-size="14.56">A</text>
<rect x="460.5" y="340.5" width="3.5" height="2.2" rx="0.6"/>
<rect x="477.2" y="340.5" width="3.5" height="2.2" rx="0.6"/>
</g>
</svg>
</body></html>
